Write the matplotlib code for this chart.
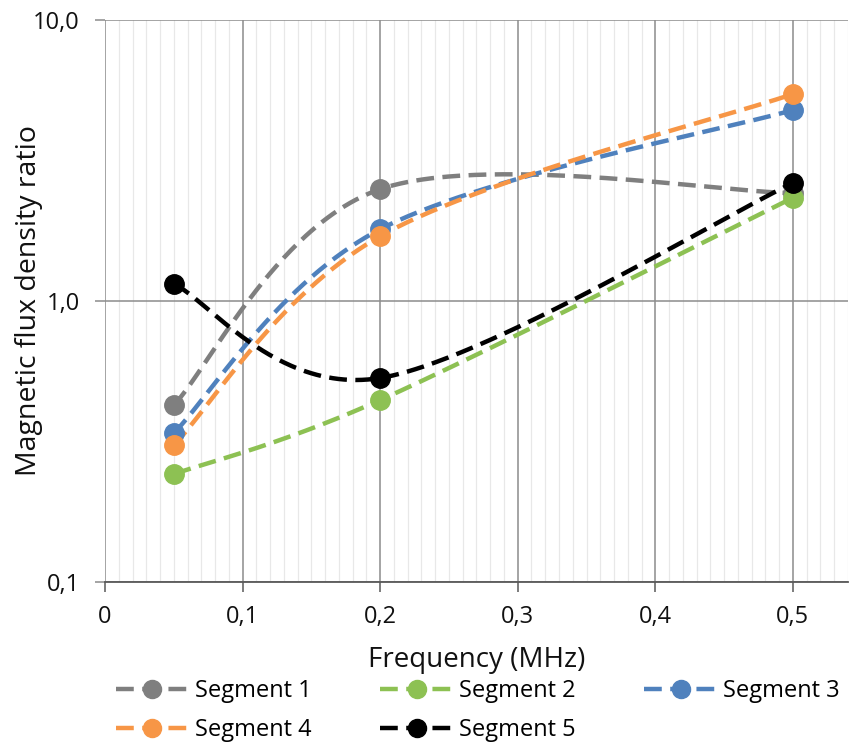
import numpy as np
import matplotlib
matplotlib.use("Agg")
import matplotlib.pyplot as plt
from matplotlib.lines import Line2D
from matplotlib.ticker import FixedLocator, FixedFormatter, NullLocator

plt.rcParams['font.family'] = ['Open Sans', 'DejaVu Sans']

freq = [0.05, 0.2, 0.5]
series_names = ["Segment 1", "Segment 2", "Segment 3", "Segment 4", "Segment 5"]
seg1 = [0.426, 2.50, 2.42]
seg2 = [0.242, 0.444, 2.33]
seg3 = [0.339, 1.80, 4.78]
seg4 = [0.307, 1.70, 5.45]
seg5 = [1.15, 0.532, 2.63]
values = [seg1, seg2, seg3, seg4, seg5]
colors = ["#7F7F7F", "#8DC153", "#4F81BD", "#F79646", "#000000"]

xticks = [0, 0.1, 0.2, 0.3, 0.4, 0.5]
xticklabels = ["0", "0,1", "0,2", "0,3", "0,4", "0,5"]
yticks = [0.1, 1, 10]
yticklabels = ["0,1", "1,0", "10,0"]

XMIN, XMAX = 0.0, 0.54
YMIN, YMAX = 0.1, 10.0

fig = plt.figure(figsize=(8.49, 7.43), dpi=100)
ax = fig.add_axes([0.1237, 0.2167, 0.875, 0.7564])
ax.set_xlim(XMIN, XMAX)
ax.set_yscale('log')
ax.set_ylim(YMIN, YMAX)

bbox = ax.get_position()
W = bbox.width * fig.get_figwidth() * fig.dpi
H = bbox.height * fig.get_figheight() * fig.dpi


def to_px(x, y):
    px = (np.asarray(x) - XMIN) / (XMAX - XMIN) * W
    py = (np.log10(np.asarray(y)) - np.log10(YMIN)) / (np.log10(YMAX) - np.log10(YMIN)) * H
    return px, py


def from_px(px, py):
    x = px / W * (XMAX - XMIN) + XMIN
    y = 10 ** (py / H * (np.log10(YMAX) - np.log10(YMIN)) + np.log10(YMIN))
    return x, y


def smooth(xs, ys, n=100):
    px, py = to_px(xs, ys)
    P = np.column_stack([px, py])
    m = len(P)
    out = []
    for i in range(m - 1):
        p0 = P[i]
        p3 = P[i + 1]
        pm = P[i - 1] if i > 0 else P[i]
        pn = P[i + 2] if i + 2 < m else P[i + 1]
        c1 = p0 + (p3 - pm) / 6.0
        c2 = p3 - (pn - p0) / 6.0
        t = np.linspace(0, 1, n)[:, None]
        b = ((1 - t) ** 3) * p0 + 3 * ((1 - t) ** 2) * t * c1 + 3 * (1 - t) * t ** 2 * c2 + t ** 3 * p3
        out.append(b if i == 0 else b[1:])
    B = np.vstack(out)
    return from_px(B[:, 0], B[:, 1])


lw = 3.2
dash = (4.0, 1.9)
ms = 14

for k, (vals, col) in enumerate(zip(values, colors)):
    sx, sy = smooth(freq, vals)
    ax.plot(sx, sy, color=col, lw=lw, dashes=dash, dash_capstyle='butt', zorder=3 + k)
for k, (vals, col) in enumerate(zip(values, colors)):
    ax.plot(freq, vals, linestyle='none', marker='o', ms=ms, color=col, mec=col, zorder=10 + k)

# grid
ax.xaxis.set_major_locator(FixedLocator(xticks))
ax.xaxis.set_major_formatter(FixedFormatter(xticklabels))
ax.xaxis.set_minor_locator(FixedLocator([i / 100 for i in range(1, 55) if i % 10 != 0]))
ax.yaxis.set_major_locator(FixedLocator(yticks))
ax.yaxis.set_major_formatter(FixedFormatter(yticklabels))
ax.yaxis.set_minor_locator(NullLocator())

ax.grid(True, which='major', axis='both', color='#8C8C8C', lw=1.1, zorder=1)
ax.grid(True, which='minor', axis='x', color='#E8E8E8', lw=0.9, zorder=0)
ax.set_axisbelow(True)

for s in ['top', 'right', 'left']:
    ax.spines[s].set_visible(False)
ax.spines['bottom'].set_color('#595959')
ax.spines['bottom'].set_linewidth(1.3)

ax.tick_params(axis='x', which='major', direction='out', length=7, width=1.1, color='#595959',
               labelsize=17, pad=9.5, labelcolor='#111111')
ax.tick_params(axis='x', which='minor', length=0)
ax.tick_params(axis='y', which='major', direction='out', length=7, width=1.1, color='#8C8C8C',
               labelsize=17, pad=11, labelcolor='#111111')

ax.set_xlabel("Frequency (MHz)", fontsize=20, labelpad=12, color='#111111')
ax.set_ylabel("Magnetic flux density ratio", fontsize=20.5, color='#111111')
ax.yaxis.set_label_coords(-0.083, 0.5)

handles = [Line2D([0], [0], color=c, lw=lw, dashes=dash, marker='o', ms=13, mec=c, mfc=c)
           for c in colors]
order = [0, 3, 1, 4, 2]
leg = fig.legend([handles[i] for i in order], [series_names[i] for i in order],
                 loc='upper center', bbox_to_anchor=(0.563, 0.105),
                 ncol=3, frameon=False, fontsize=17, handlelength=3.1, handletextpad=0.25,
                 columnspacing=2.9, labelspacing=0.62, borderaxespad=0.2)

fig.savefig("out.png", dpi=100)
